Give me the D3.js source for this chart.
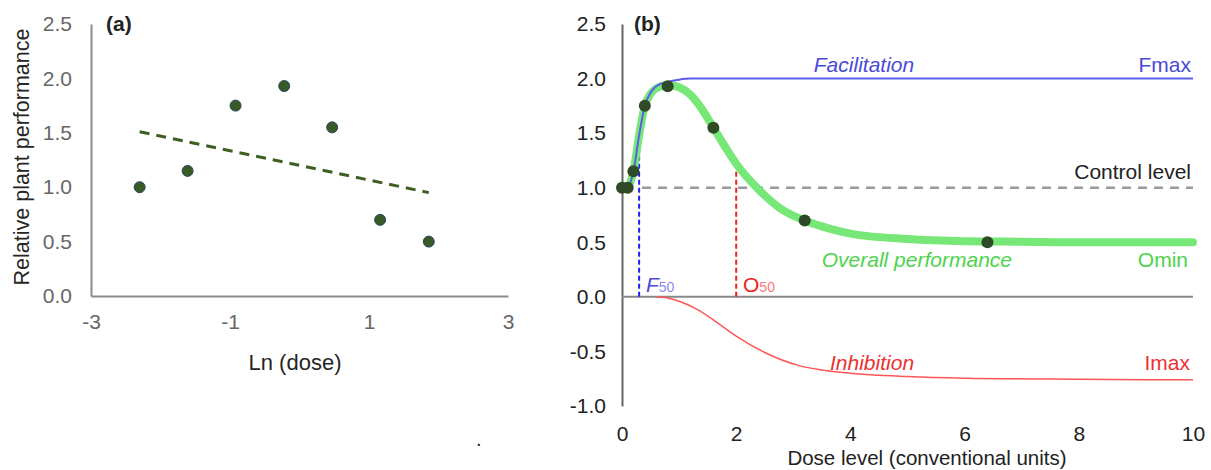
<!DOCTYPE html>
<html>
<head>
<meta charset="utf-8">
<script src="https://cdn.jsdelivr.net/npm/d3@7"></script>
<style>
  body { margin: 0; background: #fff; }
  text { font-family: Arial, "Liberation Sans", sans-serif; }
</style>
</head>
<body>
<script>
// panel (a) data
const lnDose = [-2.30, -1.61, -0.92, -0.22, 0.47, 1.16, 1.86];
const relPerf = [1.0, 1.15, 1.75, 1.93, 1.55, 0.70, 0.50];
const trendX = [-2.30, 1.86];
const trendY = [1.51, 0.95];
const ticksA_x = [-3, -1, 1, 3];
const ticksA_y = [0, 0.5, 1.0, 1.5, 2.0, 2.5];

// panel (b) data
const doseObs = [0, 0.1, 0.2, 0.4, 0.8, 1.6, 3.2, 6.4];
const perfObs = [1.0, 1.0, 1.15, 1.75, 1.93, 1.55, 0.70, 0.50];

const overallDose = [0, 0.1, 0.2, 0.3, 0.4, 0.5, 0.6, 0.8, 1.0, 1.2, 1.4, 1.6, 1.8, 2.0, 2.4, 2.8, 3.2, 3.6, 4, 5, 6, 7, 8, 9, 10];
const overallVal = [1.0, 1.01, 1.15, 1.48, 1.75, 1.86, 1.91, 1.94, 1.92, 1.85, 1.72, 1.55, 1.38, 1.22, 0.98, 0.80, 0.70, 0.63, 0.58, 0.53, 0.51, 0.505, 0.50, 0.50, 0.50];

const facilDose = [0, 0.1, 0.2, 0.3, 0.4, 0.5, 0.6, 0.8, 1.0, 1.2, 2, 4, 6, 8, 10];
const facilVal = [1.0, 1.01, 1.15, 1.48, 1.75, 1.87, 1.93, 1.97, 1.99, 2.0, 2.0, 2.0, 2.0, 2.0, 2.0];

const inhibDose = [0.6, 0.8, 1.0, 1.3, 1.6, 2.0, 2.5, 3.1, 3.5, 4, 5, 6, 8, 10];
const inhibVal = [0, -0.01, -0.04, -0.11, -0.21, -0.36, -0.51, -0.63, -0.67, -0.70, -0.73, -0.745, -0.755, -0.76];

const F50 = 0.3, O50 = 2.0, O50val = 1.22, F50val = 1.48;
const controlLevel = 1.0;
const ticksB_x = [0, 2, 4, 6, 8, 10];
const ticksB_y = [-1.0, -0.5, 0, 0.5, 1.0, 1.5, 2.0, 2.5];

const w = 1211, h = 470;
const fs = 21;
const svg = d3.select("body").append("svg").attr("width", w).attr("height", h);

const fmt1 = d => d.toFixed(1);   // plain hyphen minus, like the original
const fmt0 = d => String(d);

// ---------- panel (a) ----------
const xA = d3.scaleLinear().domain([-3, 3]).range([91, 508]);
const yA = d3.scaleLinear().domain([0, 2.5]).range([296, 24]);

const axAy = svg.append("g").attr("transform", `translate(${xA(-3)},0)`)
  .call(d3.axisLeft(yA).tickValues(ticksA_y).tickFormat(fmt1).tickSize(0).tickPadding(19));
const axAx = svg.append("g").attr("transform", `translate(0,${yA(0)})`)
  .call(d3.axisBottom(xA).tickValues(ticksA_x).tickFormat(fmt0).tickSize(0).tickPadding(17));
[axAy, axAx].forEach(g => {
  g.select(".domain").attr("stroke", "#8c8c8c").attr("stroke-width", 2);
  g.selectAll("text").attr("font-size", fs).attr("fill", "#666");
});
axAx.selectAll("text").attr("dy", "0.75em");

svg.append("text")
  .attr("transform", `translate(29,157) rotate(-90)`)
  .attr("text-anchor", "middle")
  .attr("font-size", 21.5)
  .attr("fill", "#262626")
  .text("Relative plant performance");

svg.append("text").attr("x", 295).attr("y", 370).attr("text-anchor", "middle")
  .attr("font-size", 22).attr("fill", "#262626").text("Ln (dose)");

svg.append("text").attr("x", 106).attr("y", 31).attr("font-size", 21)
  .attr("font-weight", "bold").attr("fill", "#222").text("(a)");

svg.append("path")
  .datum(d3.zip(trendX, trendY))
  .attr("d", d3.line().x(d => xA(d[0])).y(d => yA(d[1])))
  .attr("fill", "none").attr("stroke", "#3d5f22").attr("stroke-width", 3)
  .attr("stroke-dasharray", "10,7");

svg.append("g").selectAll("circle")
  .data(d3.zip(lnDose, relPerf)).join("circle")
  .attr("cx", d => xA(d[0])).attr("cy", d => yA(d[1])).attr("r", 5.5)
  .attr("fill", "#385a26").attr("stroke", "#2b4560").attr("stroke-width", 1);

svg.append("text").attr("x", 476).attr("y", 446).attr("font-size", 20).attr("fill", "#222").text(".");

// ---------- panel (b) ----------
const xB = d3.scaleLinear().domain([0, 10]).range([622, 1193]);
const yB = d3.scaleLinear().domain([-1, 2.5]).range([406, 24]);

const axBy = svg.append("g").attr("transform", `translate(${xB(0)},0)`)
  .call(d3.axisLeft(yB).tickValues(ticksB_y).tickFormat(fmt1).tickSize(0).tickPadding(16));
axBy.select(".domain").attr("stroke", "#666").attr("stroke-width", 2);
axBy.selectAll("text").attr("font-size", fs).attr("fill", "#222");

const axBx = svg.append("g").attr("transform", `translate(0,${yB(-1)})`)
  .call(d3.axisBottom(xB).tickValues(ticksB_x).tickFormat(fmt0).tickSize(0).tickPadding(19));
axBx.select(".domain").remove();
axBx.selectAll("text").attr("font-size", fs).attr("fill", "#222").attr("dy", "0.75em");

svg.append("text").attr("x", 927).attr("y", 465).attr("text-anchor", "middle")
  .attr("font-size", 20.5).attr("fill", "#222").text("Dose level (conventional units)");

svg.append("text").attr("x", 634).attr("y", 31).attr("font-size", 21)
  .attr("font-weight", "bold").attr("fill", "#222").text("(b)");

// zero line
svg.append("line")
  .attr("x1", xB(0)).attr("x2", xB(10)).attr("y1", yB(0)).attr("y2", yB(0))
  .attr("stroke", "#888").attr("stroke-width", 2);

// control level
svg.append("line")
  .attr("x1", xB(0.35)).attr("x2", xB(10)).attr("y1", yB(controlLevel)).attr("y2", yB(controlLevel))
  .attr("stroke", "#9a9a9a").attr("stroke-width", 2.5).attr("stroke-dasharray", "9,7");

// F50 / O50 markers
svg.append("line")
  .attr("x1", xB(F50)).attr("x2", xB(F50)).attr("y1", yB(0)).attr("y2", yB(F50val))
  .attr("stroke", "#2222ee").attr("stroke-width", 2).attr("stroke-dasharray", "5,3");
svg.append("line")
  .attr("x1", xB(O50)).attr("x2", xB(O50)).attr("y1", yB(0)).attr("y2", yB(O50val))
  .attr("stroke", "#ee2222").attr("stroke-width", 2).attr("stroke-dasharray", "5,3");

const lineB = d3.line().x(d => xB(d[0])).y(d => yB(d[1])).curve(d3.curveMonotoneX);

svg.append("path").datum(d3.zip(overallDose, overallVal))
  .attr("d", lineB).attr("fill", "none")
  .attr("stroke", "#77e777").attr("stroke-width", 8).attr("stroke-linecap", "round");

svg.append("path").datum(d3.zip(facilDose, facilVal))
  .attr("d", lineB).attr("fill", "none")
  .attr("stroke", "#5c5cf0").attr("stroke-width", 2);

svg.append("path").datum(d3.zip(inhibDose, inhibVal))
  .attr("d", lineB).attr("fill", "none")
  .attr("stroke", "#f55").attr("stroke-width", 1.5);

svg.append("g").selectAll("circle")
  .data(d3.zip(doseObs, perfObs)).join("circle")
  .attr("cx", d => xB(d[0])).attr("cy", d => yB(d[1])).attr("r", 6)
  .attr("fill", "#2f4a27");

// annotations
function label(x, y, txt, color, anchor, italic) {
  return svg.append("text").attr("x", x).attr("y", y)
    .attr("text-anchor", anchor).attr("font-size", fs).attr("fill", color)
    .attr("font-style", italic ? "italic" : "normal").text(txt);
}
label(864, 72, "Facilitation", "#4a4ad8", "middle", true);
label(1191, 72, "Fmax", "#4a4ad8", "end", false);
label(1191, 179, "Control level", "#222", "end", false);
label(1012, 267, "Overall performance", "#4cd44c", "end", true);
label(1188, 267, "Omin", "#4cd44c", "end", false);
label(830, 370, "Inhibition", "#ee3030", "start", true);
label(1190, 370, "Imax", "#ee3030", "end", false);

const f50 = svg.append("text").attr("x", 646).attr("y", 292).attr("font-size", fs).attr("fill", "#4a4ad8");
f50.append("tspan").attr("font-style", "italic").text("F");
f50.append("tspan").attr("font-size", 14).attr("fill", "#8c8cf0").text("50");

const o50 = svg.append("text").attr("x", 743).attr("y", 292).attr("font-size", fs).attr("fill", "#f02020");
o50.append("tspan").text("O");
o50.append("tspan").attr("font-size", 14).attr("fill", "#f77").text("50");
</script>
</body>
</html>
